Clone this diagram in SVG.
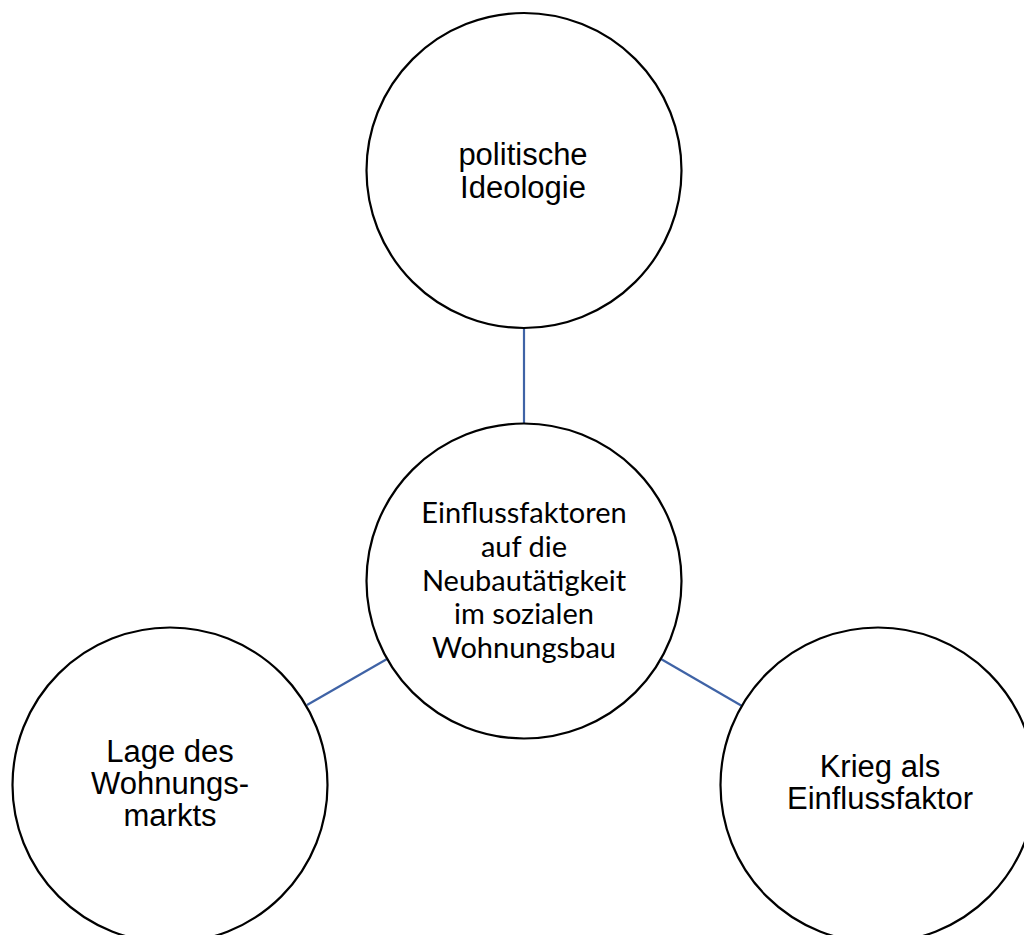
<svg xmlns="http://www.w3.org/2000/svg" width="1024" height="935" viewBox="0 0 1024 935">
<style>
.node{fill:#ffffff;stroke:#000000;stroke-width:2.2}
.lbl{font-family:"Liberation Sans",Arial,sans-serif;font-size:31px;fill:#000000;text-anchor:middle}
.lblc{font-family:Lato,"Liberation Sans",sans-serif;font-size:29px;fill:#000000;text-anchor:middle}
.conn{stroke:#3F63A6;stroke-width:2.2;fill:none}
</style>
<rect width="1024" height="935" fill="#ffffff"/>
<g id="connectors">
<line class="conn" x1="524" y1="328" x2="524" y2="423"/>
<line class="conn" x1="307" y1="705" x2="387" y2="659"/>
<line class="conn" x1="661" y1="659" x2="742" y2="706"/>
</g>
<g id="node-top">
<circle class="node" cx="524" cy="170.5" r="157.5"/>
<text class="lbl" x="523" y="165">politische</text>
<text class="lbl" x="523" y="198">Ideologie</text>
</g>
<g id="node-center">
<circle class="node" cx="524" cy="581" r="157.5"/>
<text class="lblc" x="524" y="523">Einflussfaktoren</text>
<text class="lblc" x="524" y="557">auf die</text>
<text class="lblc" x="524" y="591">Neubautätigkeit</text>
<text class="lblc" x="524" y="624">im sozialen</text>
<text class="lblc" x="524" y="658">Wohnungsbau</text>
</g>
<g id="node-left">
<circle class="node" cx="170" cy="785" r="157.5"/>
<text class="lbl" x="170" y="762">Lage des</text>
<text class="lbl" x="170" y="794">Wohnungs-</text>
<text class="lbl" x="170" y="826">markts</text>
</g>
<g id="node-right">
<circle class="node" cx="878" cy="785" r="157.5"/>
<text class="lbl" x="880" y="777">Krieg als</text>
<text class="lbl" x="880" y="809">Einflussfaktor</text>
</g>
</svg>
